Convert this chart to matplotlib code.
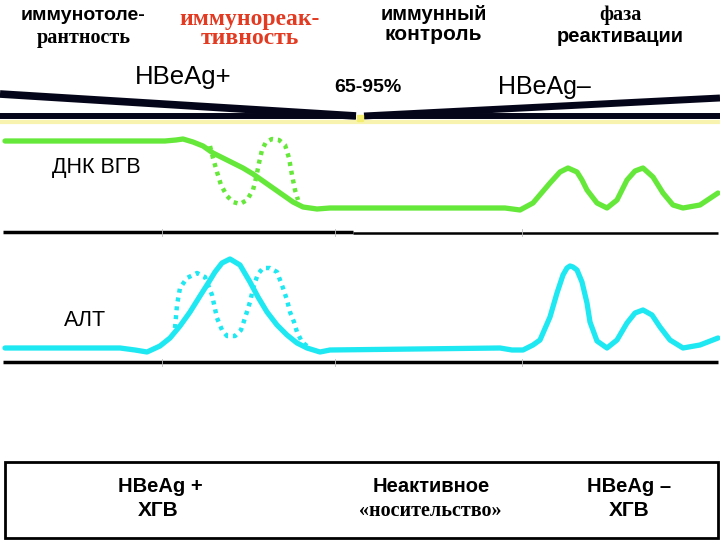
import matplotlib.pyplot as plt

# ДНК ВГВ (сплошная) - точки, координаты в пикселях
dnk_x = [5, 165, 176, 183, 193, 203, 213, 223, 233, 243, 253, 263, 273, 283, 293, 303, 317, 330,
         505, 520, 533, 550, 560, 568, 577, 582, 587, 597, 607, 617, 627, 635, 643, 653,
         663, 673, 683, 700, 718]
dnk_y = [141, 141, 140, 139, 142, 146, 153, 158, 163, 168, 174, 181, 188, 195, 202, 207, 209, 208,
         208, 210, 203, 183, 172, 168, 172, 180, 190, 203, 208, 200, 180, 171, 168, 177,
         193, 205, 208, 205, 193]

# ДНК ВГВ (пунктир - волнообразное течение)
dnk_dot_x = [210, 213, 217, 221, 227, 233, 240, 247, 253, 256, 259, 262, 266, 272, 279, 285,
             289, 292, 295, 298]
dnk_dot_y = [146, 158, 172, 185, 196, 202, 204, 200, 190, 178, 163, 150, 142, 139, 140, 145,
             158, 175, 190, 200]

# АЛТ (сплошная)
alt_x = [5, 120, 135, 147, 160, 170, 180, 190, 200, 207, 215, 222, 230, 240, 250, 258, 267,
         277, 287, 297, 307, 320, 330, 500, 512, 523, 533, 540, 550, 557, 563, 567, 570, 573,
         577, 582, 587, 590, 597, 607, 617, 627, 635, 643, 652, 660, 670, 683, 700, 718]
alt_y = [348, 348, 350, 352, 346, 338, 326, 312, 296, 285, 272, 263, 259, 265, 282, 297, 312,
         325, 335, 343, 348, 352, 350, 348, 350, 350, 345, 340, 317, 293, 275, 268, 266, 267,
         270, 282, 303, 322, 341, 348, 340, 323, 313, 310, 315, 327, 340, 348, 345, 338]

# АЛТ (пунктир)
alt_dot_x = [175, 177, 180, 187, 197, 205, 212, 217, 222, 227, 235, 241, 245, 250, 254, 258,
             263, 270, 277, 283, 287, 290, 294, 297, 302, 307]
alt_dot_y = [328, 305, 288, 278, 273, 277, 295, 318, 330, 336, 336, 330, 318, 302, 285, 274,
             268, 268, 272, 288, 300, 312, 322, 332, 342, 346]

green = '#66e83a'
cyan = '#1ee8f2'

fig = plt.figure(figsize=(7.2, 5.4), dpi=100)
ax = fig.add_axes([0, 0, 1, 1])
ax.set_xlim(0, 720)
ax.set_ylim(540, 0)
ax.axis('off')

# клин HBeAg сверху
ax.plot([0, 356], [94, 116], color='#05051a', lw=5.5, solid_capstyle='butt')
ax.plot([364, 720], [116, 98], color='#05051a', lw=5.0, solid_capstyle='butt')
ax.plot([0, 356], [116, 116], color='#05051a', lw=4.3, solid_capstyle='butt')
ax.plot([364, 720], [116, 116], color='#05051a', lw=4.3, solid_capstyle='butt')
ax.plot([0, 720], [122, 122], color='#f8f4b0', lw=3)
ax.plot([360], [118], 's', color='#f4ee70', ms=4)

# разделители
ax.plot([3, 353], [232, 232], color='black', lw=2.5, solid_capstyle='butt')
ax.plot([353, 718], [233, 233], color='black', lw=1.8, solid_capstyle='butt')
ax.plot([3, 718], [362, 362], color='black', lw=2.5, solid_capstyle='butt')
for tx in [162, 335, 522]:
    ax.plot([tx, tx], [229, 236], color='#bbbbbb', lw=0.6)
    ax.plot([tx, tx], [359, 366], color='#bbbbbb', lw=0.6)

# кривые
ax.plot(dnk_x, dnk_y, color=green, lw=3.8, solid_joinstyle='round', solid_capstyle='round')
ax.plot(dnk_dot_x, dnk_dot_y, color=green, lw=3.2, linestyle=(0, (0.9, 1.1)))
ax.plot(alt_x, alt_y, color=cyan, lw=3.8, solid_joinstyle='round', solid_capstyle='round')
ax.plot(alt_dot_x, alt_dot_y, color=cyan, lw=3.2, linestyle=(0, (0.9, 1.1)))

# нижняя рамка
ax.add_patch(plt.Rectangle((5, 462), 713, 76, fill=False, ec='black', lw=2))

sans = 'Liberation Sans'
serif = 'Liberation Serif'

def t(x, y, s, fam=sans, size=13, w='bold', c='black'):
    ax.text(x, y, s, family=fam, fontsize=size, fontweight=w, color=c,
            ha='center', va='center')

# фазы
t(83, 15, 'иммунотоле-', size=14)
t(84, 38, 'рантность', fam=serif, size=14.5)
t(250, 19, 'иммунореак-', fam=serif, size=17, c='#e33a22')
t(250, 39, 'тивность', fam=serif, size=17, c='#e33a22')
t(434, 15, 'иммунный', size=14.5)
t(433, 35, 'контроль', size=15)
t(620, 15, 'фаза', fam=serif, size=14.5)
t(620, 36, 'реактивации', size=14.5)

t(183, 77, 'HBeAg+', size=18.5, w='normal')
t(368, 88, '65-95%', size=14)
t(544, 87, 'HBeAg\u2013', size=18, w='normal')

t(96, 168, 'ДНК ВГВ', size=15.5, w='normal')
t(85, 320, 'АЛТ', size=15.5, w='normal')

t(160, 487, 'HBeAg +', size=14.5)
t(158, 511, 'ХГВ', size=15)
t(431, 487, 'Неактивное', size=14.5)
t(430, 511, '«носительство»', fam=serif, size=14.5)
t(629, 487, 'HBeAg \u2013', size=14.5)
t(629, 511, 'ХГВ', size=15)

fig.savefig('out.png', dpi=100)
